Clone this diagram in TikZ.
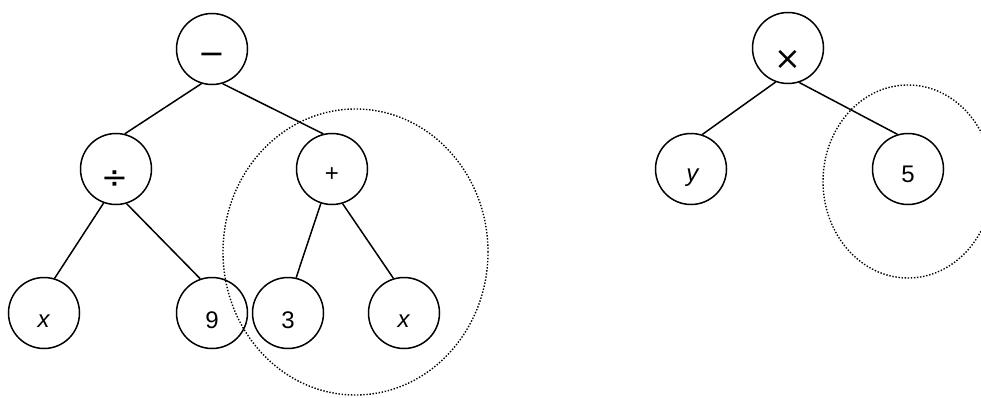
\documentclass[tikz,border=0pt]{standalone}
\usepackage{fontspec}
\setmainfont{Liberation Sans}
\newfontfamily\opfont{DejaVu Sans}
\begin{document}
\begin{tikzpicture}[x=1pt,y=1pt,
  circ/.style={circle,draw=black,line width=1.5pt,minimum size=71pt,inner sep=0pt},
  lbl/.style={inner sep=0pt,font=\fontsize{24}{28}\selectfont},
  oplbl/.style={inner sep=0pt,font=\opfont\fontsize{32}{36}\selectfont},
  edge/.style={line width=1.5pt},
  dotring/.style={line width=1.4pt,dash pattern=on 1.4pt off 1.7pt}]
\useasboundingbox (0,0) rectangle (981,397);
\clip (0,0) rectangle (981,397);
% dotted rings
\draw[dotring] (355.5,145) ellipse [x radius=132.5, y radius=143];
\draw[dotring] (908,215.5) ellipse [x radius=85, y radius=96.5];
% left tree
\node[circ] (root) at (212,348) {};
\node[circ] (div) at (116,228) {};
\node[circ] (plus) at (332,228) {};
\node[circ] (xa) at (44,84) {};
\node[circ] (nine) at (212,84) {};
\node[circ] (three) at (288,84) {};
\node[circ] (xb) at (404,84) {};
% right tree
\node[circ] (times) at (788,349) {};
\node[circ] (yy) at (691,228) {};
\node[circ] (five) at (908,228) {};
% labels
\node[oplbl] (root-l) at ([yshift=-10pt]root.center) {−};
\node[oplbl] (div-l) at ([xshift=-1pt,yshift=-10.5pt]div.center) {÷};
\node[lbl] (plus-l) at ([yshift=-5.5pt]plus.center) {+};
\node[lbl] (xa-l) at ([yshift=-8pt]xa.center) {\textit{x}};
\node[lbl] (nine-l) at ([yshift=-7pt]nine.center) {9};
\node[lbl] (three-l) at ([yshift=-7pt]three.center) {3};
\node[lbl] (xb-l) at ([yshift=-8pt]xb.center) {\textit{x}};
\node[oplbl] (times-l) at ([yshift=-11.5pt]times.center) {×};
\node[lbl] (yy-l) at ([xshift=2pt,yshift=-8.5pt]yy.center) {\textit{y}};
\node[lbl] (five-l) at ([yshift=-5pt]five.center) {5};
% edges
\draw[edge] (root.-107) -- (div.76);
\draw[edge] (root.-73) -- (plus.104);
\draw[edge] (div.-110) -- (xa.73);
\draw[edge] (div.-73) -- (nine.109);
\draw[edge] (plus.-108) -- (three.77);
\draw[edge] (plus.-73) -- (xb.107);
\draw[edge] (times.-110) -- (yy.72);
\draw[edge] (times.-72) -- (five.107);
\end{tikzpicture}
\end{document}
